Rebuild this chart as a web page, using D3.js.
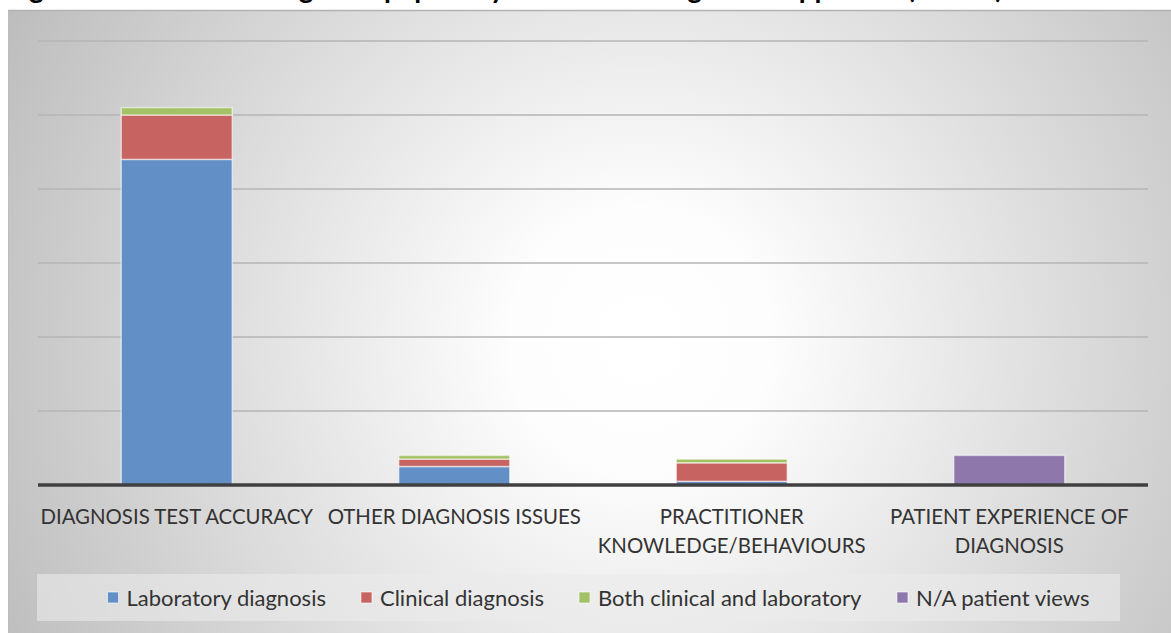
<!DOCTYPE html>
<html>
<head>
<meta charset="utf-8">
<script src="https://cdn.jsdelivr.net/npm/d3@7"></script>
<style>
  html, body { margin: 0; padding: 0; background: #ffffff; overflow: hidden; }
  svg { display: block; }
</style>
</head>
<body>
<svg id="chart" width="1171" height="633"></svg>
<script>
// ---------------- data ----------------
const titleText = "Figure 5: Number of diagnosis papers by theme and diagnostic approach (n=127)";
const categories = ["DIAGNOSIS TEST ACCURACY", "OTHER DIAGNOSIS ISSUES", "PRACTITIONER KNOWLEDGE/BEHAVIOURS", "PATIENT EXPERIENCE OF DIAGNOSIS"];
const categoryLines = [["DIAGNOSIS TEST ACCURACY"], ["OTHER DIAGNOSIS ISSUES"], ["PRACTITIONER", "KNOWLEDGE/BEHAVIOURS"], ["PATIENT EXPERIENCE OF", "DIAGNOSIS"]];
const seriesNames = ["Laboratory diagnosis", "Clinical diagnosis", "Both clinical and laboratory", "N/A patient views"];
const laboratory = [88, 5, 1, 0];
const clinical = [12, 2, 5, 0];
const both = [2, 1, 1, 0];
const naPatient = [0, 0, 0, 8];
const yTicks = [0, 20, 40, 60, 80, 100, 120];
const seriesColors = ["#6290c6", "#c76462", "#a3c266", "#8d77ab"];

// ---------------- build ----------------
const seriesValues = [laboratory, clinical, both, naPatient];
const table = categories.map((c, i) => {
  const row = { category: c };
  seriesNames.forEach((s, k) => row[s] = seriesValues[k][i]);
  return row;
});

const svg = d3.select("#chart");
const W = 1171, H = 633;
const FONT = "Lato, 'Open Sans', sans-serif";

// background gradient
const defs = svg.append("defs");
const grad = defs.append("radialGradient")
  .attr("id", "bg").attr("gradientUnits", "userSpaceOnUse")
  .attr("cx", 640).attr("cy", 340).attr("r", 720);
grad.append("stop").attr("offset", 0).attr("stop-color", "#ffffff");
grad.append("stop").attr("offset", 0.18).attr("stop-color", "#fdfdfd");
grad.append("stop").attr("offset", 1).attr("stop-color", "#bcbcbc");

// title (mostly cropped off the top, as in the reference)
svg.append("text")
  .attr("x", 6).attr("y", -2)
  .attr("font-family", FONT).attr("font-weight", "bold").attr("font-size", 28)
  .attr("fill", "#000").text(titleText);

// chart area
svg.append("rect").attr("x", 8).attr("y", 10).attr("width", W).attr("height", H)
  .attr("fill", "url(#bg)");
svg.append("line").attr("x1", 8).attr("x2", W).attr("y1", 10.5).attr("y2", 10.5)
  .attr("stroke", "#b2b2b2").attr("stroke-width", 1.5);
svg.append("line").attr("x1", 8.5).attr("x2", 8.5).attr("y1", 10).attr("y2", H)
  .attr("stroke", "#bdbdbd").attr("stroke-width", 1);

const plotLeft = 38, plotRight = 1148, baseY = 485, topY = 41;

const x = d3.scaleBand().domain(categories).range([plotLeft, plotRight])
  .paddingInner(0.6).paddingOuter(0.3);
const y = d3.scaleLinear().domain([0, d3.max(yTicks)]).range([baseY, topY]);

// gridlines
svg.append("g").selectAll("line").data(yTicks.filter(t => t > 0)).join("line")
  .attr("x1", plotLeft).attr("x2", plotRight)
  .attr("y1", d => y(d)).attr("y2", d => y(d))
  .attr("stroke", "#b4b4b4").attr("stroke-width", 1.3);

// stacked bars
const stack = d3.stack().keys(seriesNames);
const stacked = stack(table);
const gBars = svg.append("g");
stacked.forEach((layer, k) => {
  gBars.append("g").selectAll("rect").data(layer.filter(d => d[1] > d[0])).join("rect")
    .attr("x", d => x(d.data.category))
    .attr("width", x.bandwidth())
    .attr("y", d => y(d[1]))
    .attr("height", d => y(d[0]) - y(d[1]))
    .attr("fill", seriesColors[k])
    .attr("stroke", "rgba(255,255,255,0.55)")
    .attr("stroke-width", 1.5);
});

// x axis line
svg.append("line").attr("x1", plotLeft).attr("x2", plotRight)
  .attr("y1", baseY).attr("y2", baseY)
  .attr("stroke", "#404040").attr("stroke-width", 3.5);

// category labels
const xAxis = d3.axisBottom(x).tickSize(0).tickFormat("");
const gx = svg.append("g").attr("transform", `translate(0,${baseY})`).call(xAxis);
gx.select(".domain").remove();
gx.selectAll(".tick").each(function(d, i) {
  const t = d3.select(this).append("text")
    .attr("font-family", FONT).attr("font-size", 20.4).attr("fill", "#333333")
    .attr("text-anchor", "middle");
  categoryLines[i].forEach((ln, j) => {
    t.append("tspan").attr("x", 0).attr("y", 39 + j * 29).text(ln);
  });
});

// legend
svg.append("rect")
  .attr("x", 37).attr("y", 574).attr("width", 1083).attr("height", 47)
  .attr("fill", "#ebebeb").attr("fill-opacity", 0.6);
const gLeg = svg.append("g");
const items = gLeg.selectAll("g").data(seriesNames).join("g");
items.append("rect").attr("width", 11).attr("height", 11).attr("y", -6)
  .attr("fill", (d, i) => seriesColors[i])
  .attr("stroke", "rgba(255,255,255,0.6)").attr("stroke-width", 1);
items.append("text").attr("x", 19).attr("y", 0).attr("dy", "0.35em")
  .attr("font-family", FONT).attr("font-size", 22).attr("fill", "#333333")
  .text(d => d);
const gap = 35;
let widths = [];
items.each(function() { widths.push(this.getBBox().width); });
const total = d3.sum(widths) + gap * (widths.length - 1);
let cx = 598.5 - total / 2;
items.attr("transform", (d, i) => {
  const tx = cx; cx += widths[i] + gap;
  return `translate(${tx},598)`;
});
</script>
</body>
</html>
